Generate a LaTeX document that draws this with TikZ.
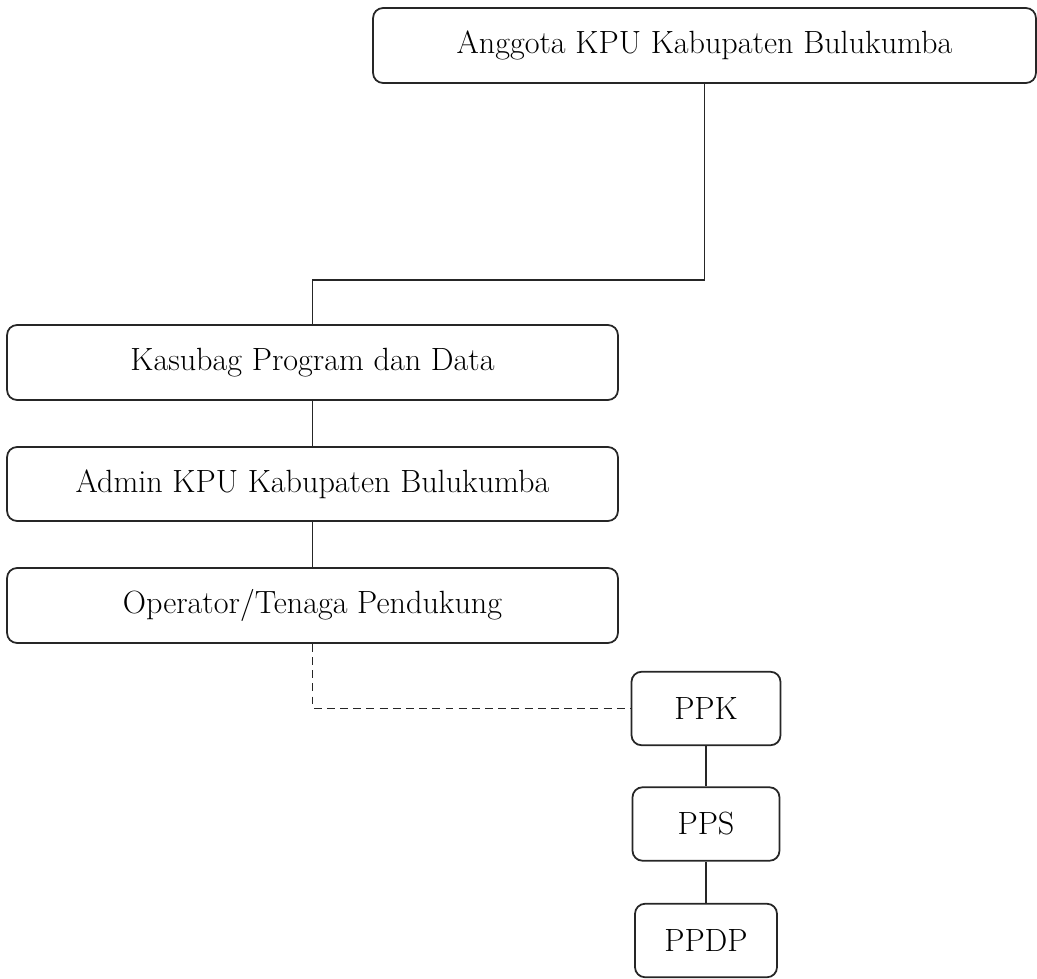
\documentclass[tikz,border=0pt]{standalone}
\usepackage{tikz}
\usetikzlibrary{positioning}

\begin{document}
\begin{tikzpicture}[x=0.02cm, y=-0.02cm,
          unit/.style={draw=black!85, line width=1pt, rounded corners=0.2cm, inner sep=0pt,
                       minimum height=1.5cm, align=center, font=\fontsize{18.3}{22}\selectfont, text=black},
          wide/.style={unit, minimum width=12.22cm},
          small/.style={unit, minimum height=1.47cm},
          link/.style={draw=black!85, line width=1pt},
          loose/.style={link, dash pattern=on 4.5pt off 3pt}]
        \useasboundingbox (0,0) rectangle (1037,979);
        \node[unit, minimum width=13.26cm] (A) at (704.5, 45.5) {Anggota KPU Kabupaten Bulukumba};
        \node[wide] (K)  at (312.5, 362.5) {Kasubag Program dan Data};
        \node[wide, minimum height=1.48cm] (M) at (312.5, 484) {Admin KPU Kabupaten Bulukumba};
        \node[wide] (O)  at (312.5, 605.5) {Operator/Tenaga Pendukung};
        \node[small, minimum width=2.98cm] (P1) at (706, 708.5) {PPK};
        \node[small, minimum width=2.94cm] (P2) at (706, 824)   {PPS};
        \node[small, minimum width=2.84cm] (P3) at (706, 940.5) {PPDP};
        \coordinate (bend) at (312.5, 280);
        \draw[link] (A.south) |- (bend) -- (K.north);
        \draw[link] (K)--(M); \draw[link] (M)--(O);
        \draw[loose] (O.south) |- (P1.west);
        \draw[link] (P1)--(P2); \draw[link] (P2)--(P3);
      \end{tikzpicture}
\end{document}
